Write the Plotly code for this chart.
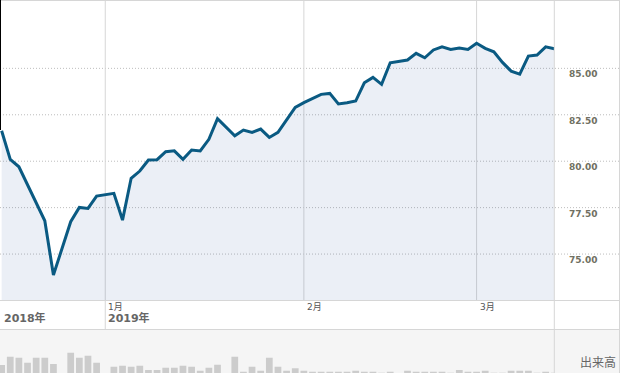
import plotly.graph_objects as go

# ---------------- data ----------------
dates = [
    "2018-12-14", "2018-12-17", "2018-12-18", "2018-12-19", "2018-12-20", "2018-12-21",
    "2018-12-24", "2018-12-26", "2018-12-27", "2018-12-28", "2018-12-31",
    "2019-01-02", "2019-01-03", "2019-01-04", "2019-01-07", "2019-01-08", "2019-01-09",
    "2019-01-10", "2019-01-11", "2019-01-14", "2019-01-15", "2019-01-16", "2019-01-17",
    "2019-01-18", "2019-01-22", "2019-01-23", "2019-01-24", "2019-01-25", "2019-01-28",
    "2019-01-29", "2019-01-30", "2019-01-31",
    "2019-02-01", "2019-02-04", "2019-02-05", "2019-02-06", "2019-02-07", "2019-02-08",
    "2019-02-11", "2019-02-12", "2019-02-13", "2019-02-14", "2019-02-15", "2019-02-19",
    "2019-02-20", "2019-02-21", "2019-02-22", "2019-02-25", "2019-02-26", "2019-02-27",
    "2019-02-28",
    "2019-03-01", "2019-03-04", "2019-03-05", "2019-03-06", "2019-03-07", "2019-03-08",
    "2019-03-11", "2019-03-12", "2019-03-13", "2019-03-14",
]

price = [
    81.64, 80.10, 79.70, 78.72, 77.78, 76.79,
    73.87, 76.74, 77.51, 77.46, 78.12,
    78.27, 76.83, 79.08, 79.47, 80.06, 80.08,
    80.51, 80.56, 80.10, 80.60, 80.55, 81.18,
    82.29, 81.37, 81.68, 81.55, 81.73, 81.28,
    81.55, 82.22, 82.90,
    83.15, 83.38, 83.60, 83.65, 83.08, 83.15,
    83.24, 84.22, 84.51, 84.14, 85.30, 85.45,
    85.81, 85.57, 85.99, 86.16, 86.02, 86.09,
    86.02,
    86.35, 86.08, 85.89, 85.32, 84.85, 84.69,
    85.66, 85.72, 86.16, 86.06,
]

volume = [
    80, 163, 153, 103, 153, 153,
    90, 203, 153, 173, 103,
    63, 73, 63, 73, 30, 30,
    53, 53, 73, 63, 23, 53,
    83, 163, 13, 63, 23, 153,
    63, 23, 47,
    23, 13, 13, 13, 13, 13,
    23, 13, 13, 3, 13, 23,
    13, 13, 13, 13, 3, 30,
    13,
    13, 23, 3, 3, 23, 23,
    23, 3, 13, 3,
]

price_ticks = [75.0, 77.5, 80.0, 82.5, 85.0]
month_ticks = ["2019-01-01", "2019-02-01", "2019-03-01"]
month_labels = ["1月", "2月", "3月"]
year_labels = ["2018年", "2019年"]
volume_label = "出来高"

# ---------------- layout helpers ----------------
W, H = 620, 373


def py(p):  # pixel row -> paper y
    return (H - p) / H


def px(p):  # pixel column -> paper x
    return p / W


X_RIGHT = 554.3
LINE_COLOR = "#0a5a82"
GRID = "#d6d6d6"

fig = go.Figure()

fig.add_trace(go.Scatter(
    x=dates, y=price, mode="lines",
    line=dict(color=LINE_COLOR, width=3),
    fill="tozeroy", fillcolor="rgba(30,80,160,0.09)",
    xaxis="x", yaxis="y", hoverinfo="skip", showlegend=False,
))

fig.add_trace(go.Bar(
    x=dates, y=volume, marker=dict(color="#cccccc", line=dict(width=0)),
    xaxis="x2", yaxis="y2", hoverinfo="skip", showlegend=False,
))

xr = ["2018-12-13 19:30", "2019-03-14 00:00"]
breaks = [dict(bounds=["sat", "mon"])]

fig.update_layout(
    width=W, height=H,
    margin=dict(l=0, r=0, t=0, b=0),
    paper_bgcolor="white",
    plot_bgcolor="rgba(0,0,0,0)",
    bargap=0.22,
    xaxis=dict(domain=[0, px(X_RIGHT)], type="date", range=xr, rangebreaks=breaks,
               showgrid=False, showticklabels=False, zeroline=False, ticks=""),
    yaxis=dict(domain=[py(300.5), 1.0], range=[72.50, 88.68],
               showgrid=False, showticklabels=False, zeroline=False, ticks=""),
    xaxis2=dict(domain=[0, px(X_RIGHT)], type="date", range=xr, rangebreaks=breaks,
                anchor="y2", matches="x",
                showgrid=False, showticklabels=False, zeroline=False, ticks=""),
    yaxis2=dict(domain=[0, py(330)], range=[0, 430], anchor="x2",
                showgrid=False, showticklabels=False, zeroline=False, ticks=""),
)

shapes = []
# volume panel background
shapes.append(dict(type="rect", xref="paper", yref="paper", x0=0, x1=1, y0=0, y1=py(329.5),
                   fillcolor="#f5f5f5", line=dict(width=0), layer="below"))
# dotted price gridlines (span full width incl. label panel)
for v in price_ticks:
    shapes.append(dict(type="line", xref="paper", yref="y", x0=0, x1=1, y0=v, y1=v,
                       line=dict(color="#bdbdbd", width=1, dash="1px,2px"), layer="below"))
# month gridlines
for i, d in enumerate(month_ticks):
    y0 = py(329.5) if i == 0 else py(300.5)
    shapes.append(dict(type="line", xref="x", yref="paper", x0=d, x1=d, y0=y0, y1=1,
                       line=dict(color=GRID, width=1), layer="below"))
# horizontal borders
for p in (0.5, 300.5, 329.5):
    shapes.append(dict(type="line", xref="paper", yref="paper", x0=0, x1=1, y0=py(p), y1=py(p),
                       line=dict(color=GRID, width=1), layer="above"))
# vertical borders
for p in (X_RIGHT, 619.5):
    shapes.append(dict(type="line", xref="paper", yref="paper", x0=px(p), x1=px(p), y0=0, y1=1,
                       line=dict(color=GRID, width=1), layer="above"))
# left dark edge
shapes.append(dict(type="line", xref="paper", yref="paper", x0=px(0.5), x1=px(0.5),
                   y0=py(130), y1=1, line=dict(color="#000000", width=1), layer="above"))
fig.update_layout(shapes=shapes)

ann = []
for v in price_ticks:
    ann.append(dict(xref="paper", yref="y", x=px(567), y=v, xanchor="left", yanchor="middle",
                    yshift=-6, text=f"{v:.2f}", showarrow=False,
                    font=dict(family="DejaVu Sans", size=9, color="#707062", weight="bold")))
for d, lab in zip(month_ticks, month_labels):
    ann.append(dict(xref="x", yref="paper", x=d, y=py(306.5), xanchor="left", yanchor="middle",
                    xshift=1, text=lab, showarrow=False,
                    font=dict(family="DejaVu Sans, Noto Sans CJK JP", size=9, color="#555555")))
ann.append(dict(xref="paper", yref="paper", x=px(2), y=py(318), xanchor="left", yanchor="middle",
                text=year_labels[0], showarrow=False,
                font=dict(family="DejaVu Sans, Noto Sans CJK JP", size=11, color="#666666", weight="bold")))
ann.append(dict(xref="x", yref="paper", x=month_ticks[0], y=py(318), xanchor="left", yanchor="middle",
                xshift=1, text=year_labels[1], showarrow=False,
                font=dict(family="DejaVu Sans, Noto Sans CJK JP", size=11, color="#666666", weight="bold")))
ann.append(dict(xref="paper", yref="paper", x=px(597.5), y=py(361), xanchor="center", yanchor="middle",
                text=volume_label, showarrow=False,
                font=dict(family="Noto Sans CJK JP", size=12, color="#666666")))
fig.update_layout(annotations=ann)

fig.write_html(
    "out.html",
    config={"displayModeBar": False, "staticPlot": True},
    post_script="document.body.style.margin='0px';document.body.style.overflow='hidden';",
)
